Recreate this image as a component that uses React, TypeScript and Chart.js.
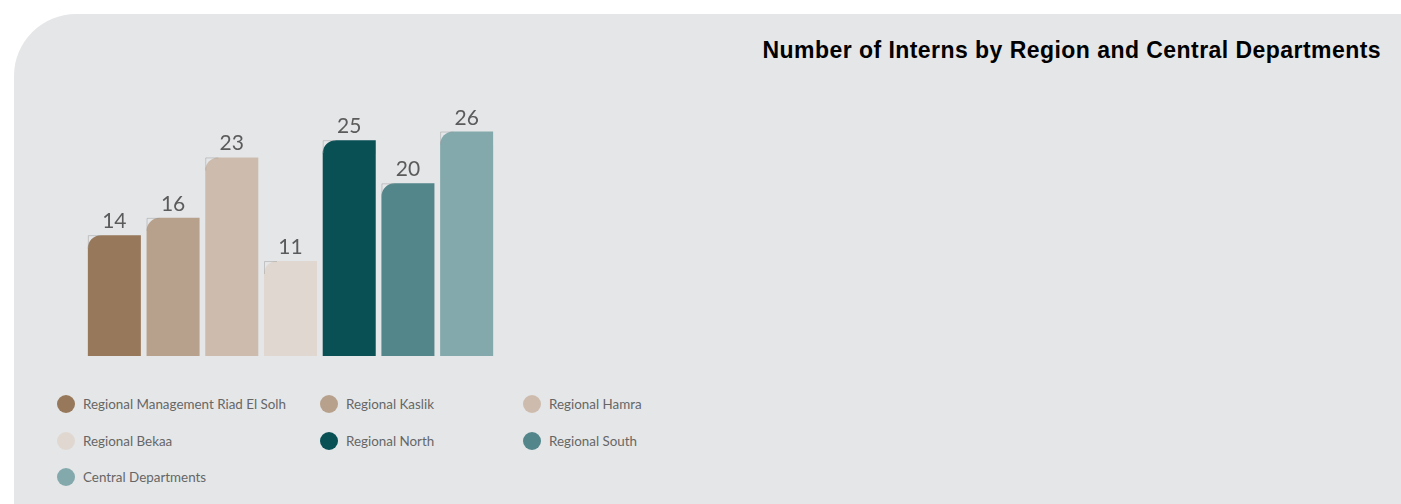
import React, { useEffect, useRef } from "react";
import { Chart, registerables } from "chart.js";

Chart.register(...registerables);

const categories = [
  "Regional Management Riad El Solh",
  "Regional Kaslik",
  "Regional Hamra",
  "Regional Bekaa",
  "Regional North",
  "Regional South",
  "Central Departments",
];
const interns = [14, 16, 23, 11, 25, 20, 26];
const barColors = ["#97785a", "#b7a18c", "#cdbcad", "#e0d8d0", "#095055", "#52868a", "#83a9ac"];
const title = "Number of Interns by Region and Central Departments";

// legend grid placement (column, row)
const legendCols = [57, 320, 523];
const legendRows = [404, 441, 477];

const labelPlugin = {
  id: "valueLabels",
  afterDatasetsDraw(chart: any) {
    const ctx = chart.ctx;
    const meta = chart.getDatasetMeta(0);
    ctx.save();
    meta.data.forEach((bar: any, i: number) => {
      const left = bar.x - bar.width / 2;
      const r = 13;
      ctx.strokeStyle = "rgba(150,150,150,0.45)";
      ctx.lineWidth = 1;
      ctx.beginPath();
      ctx.moveTo(left + 0.5, bar.y + r);
      ctx.lineTo(left + 0.5, bar.y + 0.5);
      ctx.lineTo(left + r, bar.y + 0.5);
      ctx.stroke();
      ctx.fillStyle = "#5b5b5b";
      ctx.font = "21px Lato, 'Open Sans', sans-serif";
      ctx.textAlign = "center";
      ctx.textBaseline = "alphabetic";
      ctx.fillText(String(interns[i]), bar.x, bar.y - 7);
    });
    ctx.restore();
  },
};

export default function App() {
  const canvasRef = useRef<HTMLCanvasElement | null>(null);

  useEffect(() => {
    if (!canvasRef.current) return;
    const chart = new Chart(canvasRef.current, {
      type: "bar",
      data: {
        labels: categories,
        datasets: [
          {
            data: interns,
            backgroundColor: barColors,
            borderWidth: 0,
            borderRadius: { topLeft: 13, topRight: 0, bottomLeft: 0, bottomRight: 0 },
            borderSkipped: false,
            barPercentage: 0.903,
            categoryPercentage: 1,
          },
        ],
      },
      options: {
        responsive: false,
        animation: false,
        layout: { padding: { top: 37, bottom: 0, left: 0, right: 0 } },
        plugins: {
          legend: { display: false },
          tooltip: { enabled: false },
          title: { display: false },
        },
        scales: {
          x: { display: false, offset: true },
          y: { display: false, min: 0, max: 30 },
        },
      },
      plugins: [labelPlugin],
    });
    return () => chart.destroy();
  }, []);

  return (
    <div
      style={{
        position: "fixed",
        left: 0,
        top: 0,
        width: 1401,
        height: 504,
        overflow: "hidden",
        background: "#ffffff",
      }}
    >
      <div
        style={{
          position: "absolute",
          left: 14,
          top: 14,
          width: 1387,
          height: 490,
          background: "#e5e6e8",
          borderTopLeftRadius: 62,
        }}
      />
      <div
        style={{
          position: "absolute",
          right: 20,
          top: 38,
          fontFamily: "'Liberation Sans', Arial, Helvetica, sans-serif",
          fontWeight: 700,
          fontSize: 23,
          letterSpacing: "0.45px",
          lineHeight: "24px",
          color: "#000",
          whiteSpace: "nowrap",
        }}
      >
        {title}
      </div>
      <canvas
        ref={canvasRef}
        width={411}
        height={296}
        style={{ position: "absolute", left: 85, top: 60, width: 411, height: 296 }}
      />
      {categories.map((name, i) => {
        const col = i % 3;
        const row = Math.floor(i / 3);
        const x = legendCols[col];
        const y = legendRows[row];
        return (
          <div
            key={name}
            style={{
              position: "absolute",
              left: x,
              top: y - 10,
              height: 20,
              display: "flex",
              alignItems: "center",
              whiteSpace: "nowrap",
            }}
          >
            <span
              style={{
                display: "inline-block",
                width: 18,
                height: 18,
                borderRadius: "50%",
                background: barColors[i],
                marginRight: 8,
              }}
            />
            <span
              style={{
                fontFamily: "Lato, 'Open Sans', sans-serif",
                fontSize: 13.4,
                color: "#666",
              }}
            >
              {name}
            </span>
          </div>
        );
      })}
    </div>
  );
}
